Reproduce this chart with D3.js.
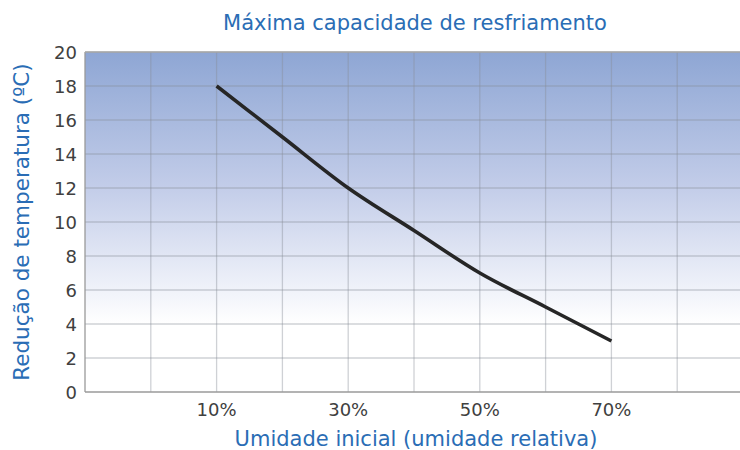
<!DOCTYPE html>
<html>
<head>
<meta charset="utf-8">
<script src="https://cdn.jsdelivr.net/npm/d3@7"></script>
<style>
  body { margin: 0; background: #fff; }
  text { font-family: "DejaVu Sans", Verdana, sans-serif; }
</style>
</head>
<body>
<div class="first"></div>
<script>
// umidade relativa inicial (%) e redução de temperatura (ºC)
const umidade = [10, 20, 30, 40, 50, 60, 70];
const reducao = [18, 15, 12, 9.5, 7, 5, 3];
const xTickLabels = [10, 30, 50, 70];
const yTicks = [0, 2, 4, 6, 8, 10, 12, 14, 16, 18, 20];

const w = 740;
const h = 450;
const m = {top: 52, left: 85, right: -3, bottom: 58};

var x = d3.scaleLinear()
          .domain([-10, 90])
          .range([m.left, w - m.right]);
var y = d3.scaleLinear()
          .domain([0, 20])
          .range([h - m.bottom, m.top]);

var svg = d3.select('.first')
            .append('svg')
            .attr('width', w)
            .attr('height', h);

// gradiente do fundo
var grad = svg.append('defs').append('linearGradient')
              .attr('id', 'bg')
              .attr('x1', 0).attr('y1', 0)
              .attr('x2', 0).attr('y2', 1);
grad.append('stop').attr('offset', '0%').attr('stop-color', '#8ea6d4');
grad.append('stop').attr('offset', '40%').attr('stop-color', '#c3cde9');
grad.append('stop').attr('offset', '80%').attr('stop-color', '#ffffff');

svg.append('rect')
   .attr('x', x(-10))
   .attr('y', y(20))
   .attr('width', x(90) - x(-10))
   .attr('height', y(0) - y(20))
   .attr('fill', 'url(#bg)');

// grade
svg.append('g')
   .selectAll('line')
   .data(d3.range(0, 100, 10))
   .enter()
   .append('line')
   .attr('x1', d => x(d)).attr('x2', d => x(d))
   .attr('y1', y(20)).attr('y2', y(0))
   .attr('stroke', '#888c96')
   .attr('stroke-opacity', 0.4)
   .attr('stroke-width', 1.3);

svg.append('g')
   .selectAll('line')
   .data(yTicks.slice(1))
   .enter()
   .append('line')
   .attr('x1', x(-10)).attr('x2', x(90))
   .attr('y1', d => y(d)).attr('y2', d => y(d))
   .attr('stroke', '#888c96')
   .attr('stroke-opacity', 0.4)
   .attr('stroke-width', 1.3);

// eixos
svg.append('line')
   .attr('x1', x(-10)).attr('x2', x(-10))
   .attr('y1', y(20)).attr('y2', y(0))
   .attr('stroke', '#9a9a9a').attr('stroke-width', 1.3);
svg.append('line')
   .attr('x1', x(-10)).attr('x2', x(90))
   .attr('y1', y(0)).attr('y2', y(0))
   .attr('stroke', '#9a9a9a').attr('stroke-width', 1.3);
svg.append('line')
   .attr('x1', x(-10)).attr('x2', x(90))
   .attr('y1', y(20)).attr('y2', y(20))
   .attr('stroke', '#a9a9a9').attr('stroke-width', 1.3);

// rótulos dos eixos
svg.append('g')
   .selectAll('text')
   .data(yTicks)
   .enter()
   .append('text')
   .attr('x', 77)
   .attr('y', d => y(d) + 6.5)
   .attr('text-anchor', 'end')
   .attr('font-size', 18)
   .attr('fill', '#404040')
   .text(d => d);

svg.append('g')
   .selectAll('text')
   .data(xTickLabels)
   .enter()
   .append('text')
   .attr('x', d => x(d))
   .attr('y', 416)
   .attr('text-anchor', 'middle')
   .attr('font-size', 18)
   .attr('fill', '#404040')
   .text(d => d + '%');

// linha
var line = d3.line()
             .x((d, i) => x(umidade[i]))
             .y(d => y(d))
             .curve(d3.curveMonotoneX);

svg.append('path')
   .datum(reducao)
   .attr('d', line)
   .attr('fill', 'none')
   .attr('stroke', '#262626')
   .attr('stroke-width', 3.6)
   .attr('stroke-linecap', 'butt');

// títulos
svg.append('text')
   .attr('x', 415)
   .attr('y', 30)
   .attr('text-anchor', 'middle')
   .attr('font-size', 21)
   .attr('fill', '#2a6db5')
   .text('Máxima capacidade de resfriamento');

svg.append('text')
   .attr('x', 416)
   .attr('y', 446)
   .attr('text-anchor', 'middle')
   .attr('font-size', 21)
   .attr('fill', '#2a6db5')
   .text('Umidade inicial (umidade relativa)');

svg.append('text')
   .attr('transform', 'translate(29,222) rotate(-90)')
   .attr('text-anchor', 'middle')
   .attr('font-size', 21.5)
   .attr('fill', '#2a6db5')
   .text('Redução de temperatura (ºC)');
</script>
</body>
</html>
